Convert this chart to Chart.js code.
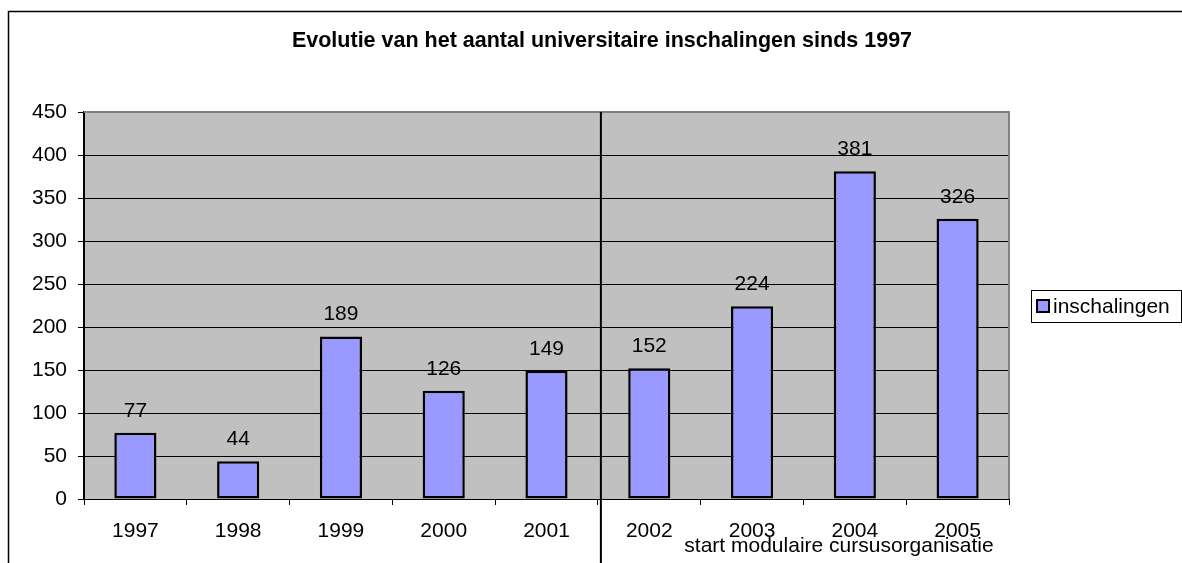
<!DOCTYPE html>
<html>
<head>
<meta charset="utf-8">
<script src="https://cdn.jsdelivr.net/npm/chart.js@4.4.1/dist/chart.umd.min.js"></script>
<style>
  html, body { margin: 0; padding: 0; background: #fff; }
  #wrap { width: 1182px; height: 563px; }
</style>
</head>
<body>
<div id="wrap"><canvas id="chart" width="1182" height="563"></canvas></div>
<script>
// ── Data ─────────────────────────────────────────────────
const years        = ['1997', '1998', '1999', '2000', '2001', '2002', '2003', '2004', '2005'];
const inschalingen = [77, 44, 189, 126, 149, 152, 224, 381, 326];
const yTicks       = [0, 50, 100, 150, 200, 250, 300, 350, 400, 450];

const chartTitle  = 'Evolutie van het aantal universitaire inschalingen sinds 1997';
const seriesName  = 'inschalingen';
const noteText    = 'start modulaire cursusorganisatie';

const FONT = '"Liberation Sans", Arial, sans-serif';
const FS   = 21;

// ── Plugin: background, borders, labels, legend, note ────
const excelLook = {
    id: 'excelLook',
    beforeDraw(chart) {
        const { ctx, chartArea: a } = chart;
        ctx.save();
        ctx.fillStyle = '#c0c0c0';
        ctx.fillRect(a.left, a.top, a.right - a.left, a.bottom - a.top);

        // outer chart frame
        ctx.strokeStyle = '#000';
        ctx.lineWidth = 1.5;
        ctx.beginPath();
        ctx.moveTo(1182, 11.5);
        ctx.lineTo(8.5, 11.5);
        ctx.lineTo(8.5, 563);
        ctx.stroke();

        // title
        ctx.fillStyle = '#000';
        ctx.font = 'bold 21.5px ' + FONT;
        ctx.textAlign = 'center';
        ctx.textBaseline = 'alphabetic';
        ctx.fillText(chartTitle, 602, 47);
        ctx.restore();
    },
    beforeDatasetsDraw(chart) {
        const { ctx, chartArea: a } = chart;
        ctx.save();
        ctx.strokeStyle = '#808080';
        ctx.lineWidth = 2;
        ctx.beginPath();
        ctx.moveTo(a.left, a.top);
        ctx.lineTo(a.right, a.top);
        ctx.lineTo(a.right, a.bottom);
        ctx.stroke();
        ctx.restore();
    },
    afterDatasetsDraw(chart) {
        const { ctx } = chart;
        const xs = chart.scales.x;
        const meta = chart.getDatasetMeta(0);
        ctx.save();
        ctx.fillStyle = '#000';
        ctx.font = FS + 'px ' + FONT;
        ctx.textAlign = 'center';
        ctx.textBaseline = 'alphabetic';
        meta.data.forEach((bar, i) => {
            ctx.fillText(String(inschalingen[i]), bar.x, bar.y - 16);
        });

        // separator line between 2001 and 2002
        const sepX = (xs.getPixelForValue(4) + xs.getPixelForValue(5)) / 2 + 3;
        ctx.strokeStyle = '#000';
        ctx.lineWidth = 2;
        ctx.beginPath();
        ctx.moveTo(sepX, chart.chartArea.top);
        ctx.lineTo(sepX, 563);
        ctx.stroke();

        // note under the axis
        ctx.fillText(noteText, 839, 552);

        // legend
        ctx.lineWidth = 1;
        ctx.strokeRect(1031.5, 290.5, 150, 32);
        ctx.fillStyle = '#9999ff';
        ctx.fillRect(1037, 300, 12, 12);
        ctx.lineWidth = 2;
        ctx.strokeRect(1037, 300, 12, 12);
        ctx.fillStyle = '#000';
        ctx.textAlign = 'left';
        ctx.textBaseline = 'middle';
        ctx.fillText(seriesName, 1053, 307);
        ctx.restore();
    }
};

new Chart(document.getElementById('chart'), {
    type: 'bar',
    data: {
        labels: years,
        datasets: [{
            label: seriesName,
            data: inschalingen,
            backgroundColor: '#9999ff',
            borderColor: '#000',
            borderWidth: 2.5,
            borderSkipped: false,
            categoryPercentage: 1,
            barPercentage: 0.41,
        }],
    },
    options: {
        responsive: false,
        animation: false,
        devicePixelRatio: 1,
        layout: { padding: { left: 0, top: 112, right: 173, bottom: 0 } },
        plugins: {
            legend: { display: false },
            title: { display: false },
            tooltip: { enabled: false },
        },
        scales: {
            x: {
                offset: true,
                grid: { display: true, drawOnChartArea: false, offset: true, color: '#000', tickLength: 6, lineWidth: 1 },
                border: { display: true, color: '#000', width: 1 },
                ticks: { color: '#000', font: { family: FONT, size: FS }, padding: 14, maxRotation: 0 },
                afterFit(scale) { scale.height = 64; },
            },
            y: {
                min: 0,
                max: 450,
                afterBuildTicks(scale) { scale.ticks = yTicks.map(v => ({ value: v })); },
                grid: { color: '#000', tickLength: 6, lineWidth: 1 },
                border: { display: true, color: '#000', width: 2 },
                ticks: { color: '#000', font: { family: FONT, size: FS }, padding: 11 },
                afterFit(scale) { scale.width = 84; },
            },
        },
    },
    plugins: [excelLook],
});
</script>
</body>
</html>
